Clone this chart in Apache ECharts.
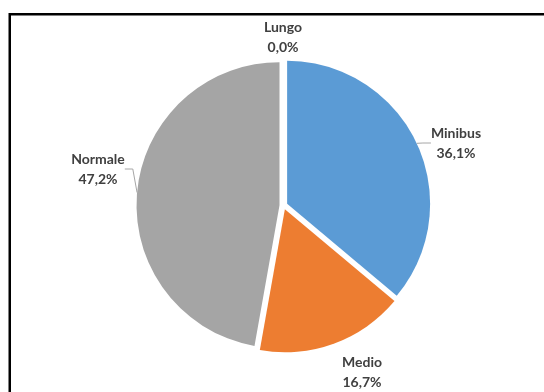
<!DOCTYPE html>
<html>
<head>
<meta charset="utf-8">
<script src="https://cdn.jsdelivr.net/npm/echarts@6/dist/echarts.min.js"></script>
<style>
html,body{margin:0;padding:0;background:#fff;}
#c{width:544px;height:392px;}
</style>
</head>
<body>
<div id="c"></div>
<script>
// ---- data ----
const categories = ['Minibus', 'Medio', 'Normale', 'Lungo'];
const shares = [36.1, 16.7, 47.2, 0.0];
const colors = ['#5b9bd5', '#ed7d31', '#a5a5a5', '#ffc000'];
const showLeader = [true, false, true, false];

// ---- layout ----
const pieCenter = [283.5, 205.5];
const pieRadius = 143;
const explode = 4;
const labelPos = [[456, 143], [362, 372.5], [98, 169], [283, 37]];

const total = shares.reduce((a, b) => a + b, 0);
let cum = 0;
const midAngles = shares.map(v => { const m = (cum + v / 2) / total * 2 * Math.PI; cum += v; return m; });

const chart = echarts.init(document.getElementById('c'), null, {renderer: 'canvas'});

const series = categories.map((cat, k) => ({
  type: 'pie',
  center: [pieCenter[0] + explode * Math.sin(midAngles[k]), pieCenter[1] - explode * Math.cos(midAngles[k])],
  radius: pieRadius,
  startAngle: 90,
  clockwise: true,
  avoidLabelOverlap: false,
  emphasis: {disabled: true},
  silent: true,
  label: {
    fontFamily: 'Lato',
    fontWeight: 'bold',
    fontSize: 14,
    lineHeight: 20,
    color: '#404040',
    formatter: function (p) {
      return p.name + '\n' + p.value.toFixed(1).replace('.', ',') + '%';
    }
  },
  labelLine: {
    length: 6,
    length2: 8,
    lineStyle: {color: '#a6a6a6', width: 1}
  },
  labelLayout: function (p) {
    const pos = labelPos[p.dataIndex];
    return {x: pos[0], y: pos[1], align: 'center', verticalAlign: 'middle'};
  },
  data: categories.map((name, j) => ({
    name: name,
    value: shares[j],
    itemStyle: {color: j === k ? colors[j] : 'rgba(0,0,0,0)'},
    label: {show: j === k},
    labelLine: {show: j === k && showLeader[j]}
  }))
}));

chart.setOption({
  animation: false,
  backgroundColor: '#ffffff',
  graphic: [{
    type: 'rect',
    shape: {x: 9.75, y: 14.2, width: 600, height: 420},
    style: {fill: 'none', stroke: '#000000', lineWidth: 2.5},
    silent: true,
    z: 100
  }],
  series: series
});
</script>
</body>
</html>
